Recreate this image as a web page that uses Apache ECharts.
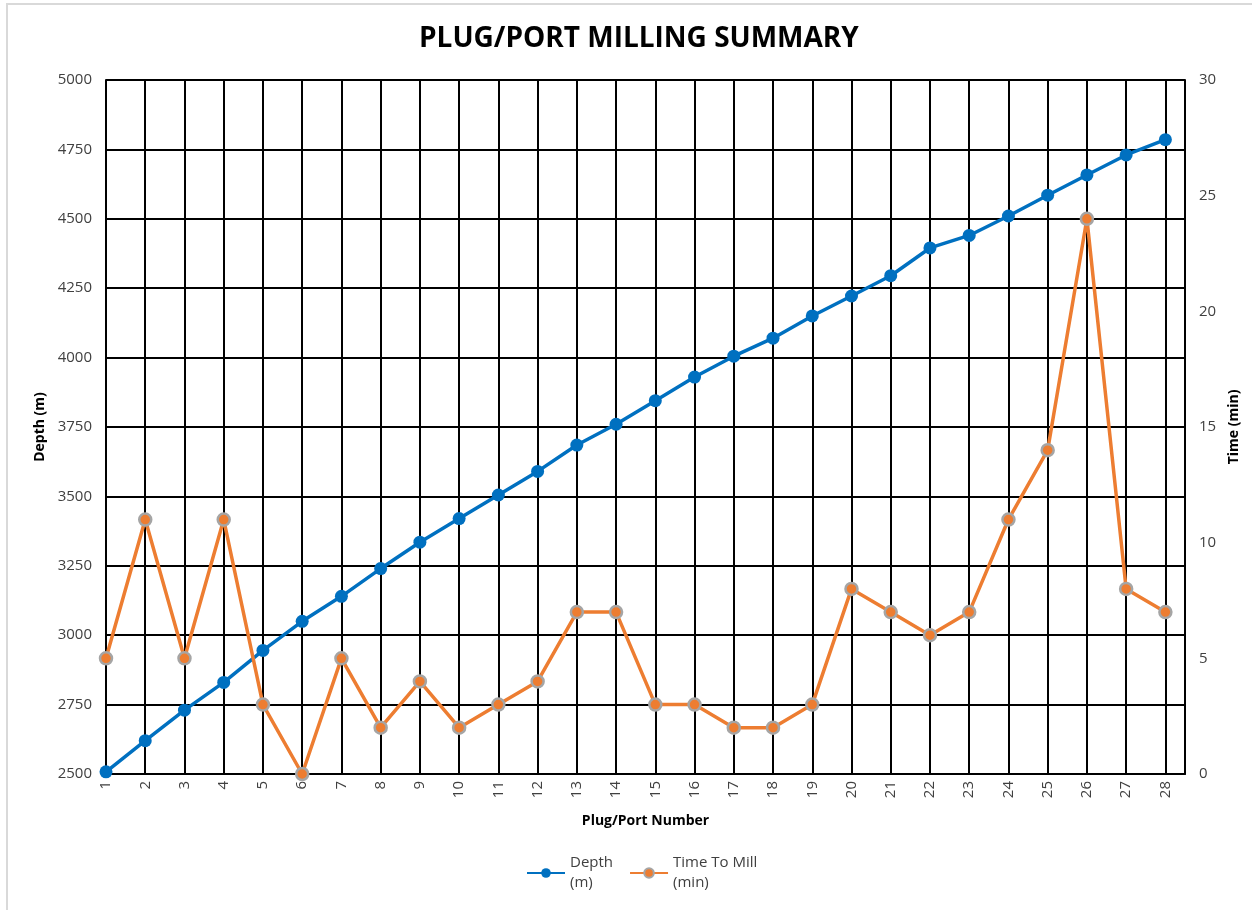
<!DOCTYPE html>
<html>
<head>
<meta charset="utf-8">
<script src="https://cdn.jsdelivr.net/npm/echarts@6/dist/echarts.min.js"></script>
<style>
  html, body { margin: 0; padding: 0; background: #fff; }
  #chart { width: 1252px; height: 910px; }
</style>
</head>
<body>
<div id="chart"></div>
<script>
// plug numbers and readings taken off the chart
const plugs = [1, 2, 3, 4, 5, 6, 7, 8, 9, 10, 11, 12, 13, 14, 15, 16, 17, 18, 19, 20, 21, 22, 23, 24, 25, 26, 27, 28];
const depth = [2508, 2620, 2730, 2830, 2945, 3050, 3140, 3240, 3335, 3420, 3505, 3590, 3685, 3760,
               3845, 3930, 4005, 4070, 4150, 4222, 4295, 4395, 4440, 4510, 4585, 4658, 4730, 4785];
const timeToMill = [5, 11, 5, 11, 3, 0, 5, 2, 4, 2, 3, 4, 7, 7, 3, 3, 2, 2, 3, 8, 7, 6, 7, 11, 14, 24, 8, 7];

let myChart = echarts.init(document.getElementById('chart'));

const txt = '#404040';
const font = 'Open Sans';

let option = {
    backgroundColor: '#fff',
    textStyle: { fontFamily: font },
    title: {
        text: 'PLUG/PORT MILLING SUMMARY',
        left: 414,
        top: 20,
        textStyle: { fontSize: 28, fontWeight: 'bold', color: '#000', fontFamily: font }
    },
    graphic: [{
        type: 'rect',
        shape: { x: 7, y: 4, width: 1260, height: 920 },
        style: { fill: 'none', stroke: '#d9d9d9', lineWidth: 2 },
        silent: true
    }],
    legend: {
        top: 848,
        left: 521,
        itemWidth: 38,
        itemHeight: 12,
        itemGap: 16,
        textStyle: { fontSize: 15, color: txt, lineHeight: 20 },
        data: ['Depth\n(m)', 'Time To Mill\n(min)']
    },
    grid: { left: 106, right: 67, top: 80, bottom: 136 },
    xAxis: {
        type: 'value',
        min: 1,
        max: 28.5,
        interval: 1,
        name: 'Plug/Port Number',
        nameLocation: 'middle',
        nameGap: 40,
        nameTextStyle: { fontSize: 14, fontWeight: 'bold', color: '#000' },
        axisLine: { lineStyle: { color: '#000', width: 2 } },
        axisTick: { show: false },
        axisLabel: {
            rotate: 90,
            fontSize: 15,
            color: txt,
            margin: 7,
            formatter: v => Number.isInteger(v) ? String(v) : ''
        },
        splitLine: { show: true, lineStyle: { color: '#000', width: 2 } }
    },
    yAxis: [{
        type: 'value',
        min: 2500,
        max: 5000,
        interval: 250,
        name: 'Depth (m)',
        nameLocation: 'middle',
        nameRotate: 90,
        nameGap: 57,
        nameTextStyle: { fontSize: 14, fontWeight: 'bold', color: '#000' },
        axisLine: { show: true, lineStyle: { color: '#000', width: 2 } },
        axisTick: { show: false },
        axisLabel: { fontSize: 15, color: txt, margin: 14, formatter: v => String(v) },
        splitLine: { show: true, lineStyle: { color: '#000', width: 2 } }
    }, {
        type: 'value',
        min: 0,
        max: 30,
        interval: 5,
        name: 'Time (min)',
        nameLocation: 'middle',
        nameRotate: 90,
        nameGap: 42,
        nameTextStyle: { fontSize: 14, fontWeight: 'bold', color: '#000' },
        axisLine: { show: true, lineStyle: { color: '#000', width: 2 } },
        axisTick: { show: false },
        axisLabel: { fontSize: 15, color: txt, margin: 14 },
        splitLine: { show: false }
    }],
    series: [{
        name: 'Depth\n(m)',
        type: 'line',
        yAxisIndex: 0,
        data: plugs.map((p, i) => [p, depth[i]]),
        symbol: 'circle',
        symbolSize: 13,
        itemStyle: { color: '#0070C0' },
        lineStyle: { color: '#0070C0', width: 3.5 },
        animation: false,
        z: 3
    }, {
        name: 'Time To Mill\n(min)',
        type: 'line',
        yAxisIndex: 1,
        data: plugs.map((p, i) => [p, timeToMill[i]]),
        symbol: 'circle',
        symbolSize: 12,
        itemStyle: { color: '#ED7D31', borderColor: '#A5A5A5', borderWidth: 2.5 },
        lineStyle: { color: '#ED7D31', width: 3.5 },
        animation: false,
        z: 4
    }]
};

myChart.setOption(option);
</script>
</body>
</html>
